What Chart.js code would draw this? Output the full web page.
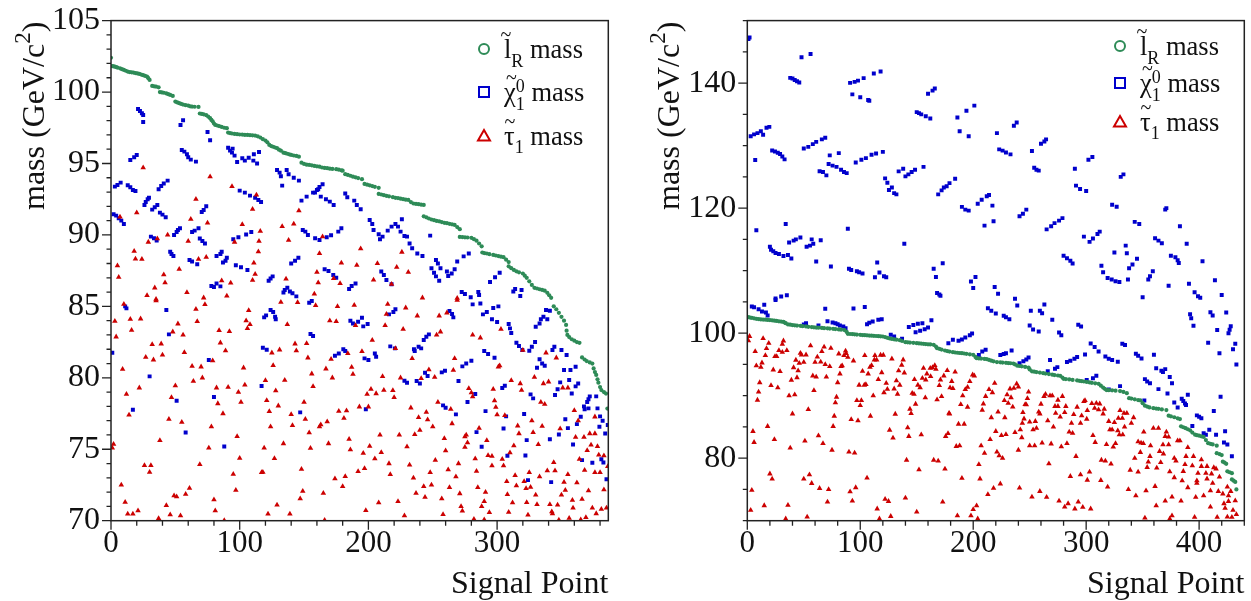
<!DOCTYPE html>
<html lang="en">
<head>
<meta charset="UTF-8">
<title>Signal point masses</title>
<script src="https://cdn.jsdelivr.net/npm/chart.js"></script>
<style>
    body { margin: 0; padding: 0; background: #fff; }
    canvas { position: absolute; top: 0; }
    #leftChart { left: 0; }
    #rightChart { left: 625px; }
</style>
</head>
<body>
<canvas id="leftChart" width="625" height="601"></canvas>
<canvas id="rightChart" width="626" height="601"></canvas>
<script>
// values as [signal point, mass]
const leftSlepton = [[0,102.4],[1,101.82],[2,101.8],[3,101.78],[4,101.75],[5,101.71],[7,101.66],[8.5,101.6],[10,101.55],[11.5,101.49],[13,101.43],[14.5,101.4],[16,101.38],[17.5,101.36],[19,101.33],[20.5,101.3],[22,101.27],[23.5,101.22],[25,101.18],[26.5,101.13],[28,101.08],[29,100.97],[30,100.85],[32,100.43],[33.5,100.4],[35,100.38],[37,100.33],[38,100],[39.5,99.97],[41,99.95],[43,99.9],[44.5,99.85],[46,99.8],[48,99.73],[50,99.33],[51.5,99.27],[53,99.22],[54.5,99.17],[56,99.12],[58,99.08],[60,99.05],[61.5,99],[63,98.98],[65,98.97],[68,98.96],[69,98.5],[70.5,98.47],[72,98.44],[74,98.38],[75.5,98.28],[77,98.17],[78,98.05],[79,97.95],[80,97.8],[81,97.7],[82.5,97.66],[84,97.62],[86,97.56],[88,97.5],[90,97.47],[91,97.16],[92.5,97.13],[94,97.1],[96,97.07],[98,97.05],[100,97.03],[102,97.02],[104,97],[106,97],[108,96.98],[110,96.97],[112,96.95],[114,96.9],[116,96.82],[118,96.7],[120,96.6],[121.5,96.48],[123,96.3],[124.5,96.22],[126,96.17],[127.5,96.12],[129,96.07],[130.5,95.97],[132,95.9],[134,95.76],[135.5,95.72],[137,95.68],[138.5,95.64],[140,95.6],[142,95.56],[144,95.53],[146,95.48],[148,95.06],[150,94.97],[152,94.92],[154,94.9],[156,94.87],[158,94.83],[160,94.8],[162,94.78],[164,94.72],[166,94.69],[168,94.67],[170,94.64],[172,94.62],[175,94.6],[177,94.57],[179,94.52],[180,94.5],[182,94.25],[184,94.2],[186,94.14],[188,94.08],[190,94.03],[192,93.98],[195,93.9],[197,93.57],[199,93.52],[201,93.47],[203,93.42],[205,93.37],[208,93.3],[208,92.87],[210,92.83],[212,92.78],[214,92.74],[216,92.7],[219,92.64],[221,92.6],[223,92.58],[225,92.54],[227,92.5],[229,92.47],[231,92.45],[233,92.3],[235,92.2],[237,92.17],[239,92.15],[241,92.12],[243,92.1],[243,91.3],[245,91.23],[247,91.15],[249,91.08],[251,91.03],[253,90.98],[255,90.95],[257,90.9],[259,90.85],[261,90.82],[263,90.78],[265,90.74],[267,90.7],[269,90.55],[271,90.4],[271,89.86],[273,89.85],[275,89.83],[277,89.82],[280,89.8],[282,89.7],[284,89.6],[286,89.4],[288,89.2],[288.5,88.77],[290,88.73],[292,88.7],[294,88.65],[297,88.6],[299,88.56],[301,88.52],[303,88.48],[305,88.44],[307,88.27],[309,88.1],[309,87.8],[311,87.67],[313,87.55],[315,87.45],[317,87.38],[320,87.3],[321.5,87.15],[323,87],[325,86.75],[327,86.5],[329,86.3],[331,86.25],[333,86.2],[335,86.15],[337,86.1],[339,85.95],[340.5,85.78],[342,85.6],[344,85],[346,84.8],[348,84.55],[350,84.27],[352,84],[353.6,83.7],[354,83.3],[354.6,83],[356,82.85],[358,82.7],[360,82.6],[362,82.5],[364,82.45],[366,81.43],[368,81.28],[369.6,81.17],[372,81.08],[374,81],[375,80.66],[376,80.4],[377,80.2],[378,79.9],[378.7,79.66],[380,79.35],[381,79.14],[383,79],[384.6,78.9],[385.7,77.85]];

const leftNeutralino = [[2,91.45],[4,91.35],[6,91.17],[8,91],[10,90.77],[3,93.38],[5,93.5],[7.5,93.66],[13,93.48],[15,93.34],[17,93.15],[19,93.08],[15,95.25],[18,95.44],[20,95.6],[21,98.82],[22.5,98.68],[24,98.52],[25,98.4],[25,97.9],[26,92.1],[27,92.3],[28.5,92.5],[29.5,92.6],[32,91.77],[34,91.94],[36,92.1],[38,91.56],[40,91.42],[42.5,91.24],[31,89.88],[33.4,89.77],[35.5,89.6],[37,93.2],[39,93.43],[41,93.6],[44,93.8],[46,88.83],[47,88.67],[48.5,88.53],[49,90],[51,90.2],[52,90.35],[53.6,90.47],[54,97.7],[56,98.03],[55,95.95],[57,95.83],[59,95.65],[60,95.44],[62,95.27],[66,95.13],[61,88.25],[63,88.14],[67,87.95],[63,90.2],[65,90.3],[68,90.47],[69,89.75],[71,89.58],[73,89.4],[70.5,91.6],[72,91.75],[74,92],[75,97.2],[77,96.63],[82,88.53],[85,88.67],[86,88.83],[87,88.07],[89,88.2],[90,88.4],[95,89.7],[99,89.84],[105,90.03],[109,90.2],[97,87.88],[101,87.74],[106,87.55],[91,96.1],[94.5,96.04],[92.5,95.9],[94,95.76],[96,95.55],[98,95.1],[102,95.37],[104,95.2],[107,95.4],[111,95.65],[115,95.8],[110.6,95.2],[113.5,95],[100,93.1],[104,92.96],[108,92.75],[112,92.6],[114.5,92.45],[116.6,92.3],[122.5,86.8],[124,86.95],[125.6,87.1],[129,94.55],[131,94.36],[132,94.1],[133,93.45],[136.5,94.55],[138,94.25],[142,94],[146,93.8],[140,88],[143,88.2],[145.6,88.4],[148,92.4],[152,92.68],[149,90.35],[151,90.23],[153,90],[158.6,89.77],[162,89.65],[157,92.96],[160,93.15],[162,93.35],[134,85.97],[135,86.15],[137,86.3],[139,86.04],[141,85.92],[144,85.7],[78,86.43],[80,86.35],[82,86.6],[85,86.4],
    [1,81.75],[11,85],[12,84.86],[43,84.74],[45,83.04],[17,77.77],[30,80.1],[51,78.4],[58,76.18],[76,81.24],[80,78.65],[88,75.2],[117,79.42],[118,82.1],[121,81.97],[119,84.23],[120.5,84.37],[124,84.74],[126,84.6],[127.5,84.27],[128,84.1],[147,77.58],[155,83.06],[157,82.92],[154,85.25],[156,85.37],
    [186,84],[188,83.8],[192,83.92],[195,84.2],[196,83.6],[199.4,83.76],[174,81.55],[177,81.7],[180.5,82],[182,81.87],[197,81.36],[200,81.24],[205,81.7],[206,81.47],[198,77.8],[216,84.44],[219.4,84.6],[221,84.8],[217,82.2],[220.6,82.06],[228,79.8],[230,79.66],[237.5,79.77],[240,79.6],[235.4,82],[236,81.87],[239,82.17],[241,82.06],[243,82.64],[245,82.87],[247,83.04],[244,80.35],[246,80.12],[257,80.38],[259.5,80.5],[263,84.67],[265,84.46],[266,84.23],[258,78.07],[260,77.9],[268,77.44],[270,79.77],[273,80.8],[276,81],[280,81.2],[277,78.3],[283,78.86],[284,76.2],[288,75.18],[291,77.67],[281,85.14],[287,85.2],[289,84.44],[292,84.6],[297,84.88],[301,85],[296,84.1],[300,83.9],[290,81.87],[293,81.66],[298,81.4],[304,79.28],[306,79.44],[309,83.76],[310,83.46],[311,83.13],[315,82.45],[317,82.22],[319.6,81.94],[325,81.9],[327,82.17],[329.5,82.5],[307,77.3],[305,76.46],[321,77.47],[323,75.64],[322,74.57],[308,74.55],[324,72.84],[342,72.7],[326,78.84],[328,78.56],[330,83.57],[333,83.8],[334,84.1],[336,84.27],[339,84.1],[338,84.74],[341,84.7],[331,80.7],[333,81.3],[335,81],[337,80.85],[343,81.94],[344.5,82.17],[350,81.94],[354,81.6],[352,80.54],[357,80.54],[361,80.77],[349,79.68],[356,79.84],[363,79.6],[361,79.4],[347,79.2],[345,78.8],[358,78.9],[341,75.7],[348,76.04],[353,77.1],[355,76.48],[359,75.34],[362,76.76],[365,77.27],[366,74.24],[374,74.06],[367.5,78],[368,77.8],[370,78.3],[371,78.5],[372,78.7],[377,78.7],[371,77.86],[378,77.86],[380,77.3],[382,77],[379.5,76.58],[384,76.1],[386,76.7],[381,74.3],[382.6,74.08],[385,72.9],
    [158.5,92.96],[161,93.2],[164.4,93.55],[163,92.68],[167,92.5],[170,92.33],[173,92.1],[182,92.9],[183.6,92.64],[189,92.4],[191,92.1],[194,91.8],[201,91.05],[203,90.77],[204,90.35],[208,90.05],[209,89.7],[211,89.88],[215,90.3],[218,90.58],[221,90.77],[226,91.1],[223,90.58],[225,90.23],[228,89.93],[230,89.88],[232,89.4],[234,89.07],[238,88.7],[242,88.53],[248,89.95],[252.5,88.25],[254,88],[256,87.67],[249,87.67],[251,87.36],[252.5,87.1],[255,86.8],[261,87.44],[262,87.13],[264.7,87.3],[267,87.6],[269,88.14],[274,88.5],[278,88.7],[167.6,89.84],[171,89.98],[176.6,90.23],[179,90.47],[166,87.6],[169,87.48],[172.7,87.2],[175,87],[185,86.22],[187,86.43],[190,86.6],[210,87.44],[212,87.2],[214,86.85],[218,86.55],[272.5,86],[275,85.87],[279.5,85.64],[285.4,86],[286,85.8],[294.5,86.7],[298.4,87.04],[302,87.36],[312.6,86.04],[314,86.22],[319,86.15],[318,85.73]];

const leftStau = [[25,94.7],[77,94.08],[94,93.4],[113,92.8],[66,92.5],[110,91.8],[146,91.7],[20,91.56],[7,91.26],[62,91.1],[75,90.84],[102,90.73],[142,90.77],[133,90.6],[116,90.26],[44,90],[36,89.74],[29,89.5],[60,89.56],[115,89.56],[138,89.63],[96,89.5],[18,88.86],[114.5,88.83],[162,88.7],[19,88.32],[24,88.3],[74,88.44],[68,88.3],[5,87.85],[111,88.04],[53,87.6],[160,87.4],[112,87.25],[41,87.22],[6,87.04],[86,86.8],[110,86.83],[136,86.92],[42,86.66],[93,86.64],[161,86.66],[34,86.3],[59,85.97],[158,85.87],[28,85.76],[90,85.73],[72,85.6],[35,85.5],
    [10,85.16],[35,85.4],[73,85.14],[132,85.3],[145,85.28],[159,85.07],[3,83.97],[15,84.1],[23,84.13],[66,84.8],[67,83.95],[52,83.78],[107,84.72],[105,84],[108,83.74],[106,83.46],[137,83.74],[4,82.87],[16,83.34],[48,83.22],[56,83],[84,83.32],[92,83.25],[32,82.34],[39,82.38],[85,82.45],[143,82.38],[152,82.4],[89,81.9],[57,81.78],[40,81.6],[125,81.75],[131,81.96],[144,81.9],[153,81.4],[27,81.45],[33,81.26],[79,81.2],[63,80.82],[70,80.77],[103,80.7],[126,80.87],[9,80.6],[156,80.28],[71,80],[64,79.77],[120,79.82],[135,79.84],[104,79.5],[50,79.45],[22,79.3],[82,79.3],[91,79.35],[157,79.4],[99,79],[128,79.1],[12,78.86],[47,78.63],[121,78.42],[83,78.2],[101,78.3],[150,78.3],[130,78.04],[123,77.65],[14,77.4],[87,77.5],[140,77.44],[45,77.1],[151,77.1],[55,76.9],[78,76.58],[124,76.58],[141,76.67],[154,76.16],[162,76.58],[98,75.9],[38,75.62],[134,75.4],[2,75.36],[1,75.1],[76,75.1],[119,75.1],[155,75.08],[100,74.38],[127,74.36],[26,73.87],[31,73.87],[69,73.94],[148,73.6],[30,73.4],[95,73.26],[117,73.38],[118,73.4],[8,72.5],[97,72.14],[61,72.28],[149,72.07],[58,71.86],[49,71.75],[51,71.68],[80,71.47],[147,71.54],[11,71.3],[43,71.07],[129,71.1],[81,70.7],[21,70.7],[13,70.47],[17,70.47],[46,70.42],[54,70.35],[122,70.47],[139,70.47],[37,70.16],[88,70.02],
    [176,85],[189,85.09],[215,85.16],[229,84.9],[269,85.44],[170,84],[175,83.95],[190,83.67],[213,83.67],[238,84.34],[255,84.34],[261,84.55],[214,84.46],[227,83.41],[256,83.22],[253,83],[303,83.41],[281,83],[287,82.8],[203,82.64],[184,81.7],[195,81.85],[221,82.06],[171,81.3],[234,81.36],[267,81.36],[320,81.94],[338,81.75],[346,81.4],[167,80.63],[187,80.75],[172,80],[188,80.26],[211,80.1],[225,80],[241,79.96],[247,80.57],[251.5,80.05],[266,80.54],[301,80.77],[302,80.85],[329,80.05],[311,79.82],[318,79.6],[336,79.6],[340,79.72],[202,79.2],[199,78.86],[206,78.9],[212,79.14],[219,79.12],[220,78.63],[278,79.26],[280,78.96],[281,78.68],[297,79.2],[319,79.14],[351,79.3],[355,79.3],[193,77.97],[200,77.97],[177,77.67],[183,77.7],[181,77.18],[233,77.9],[245,77.6],[254,78.3],[264,77.8],[298,78.4],[299,77.95],[300,77.42],[306,77.37],[334,78.3],[337,78.16],[360,77.72],[376,77.27],[163,76.72],[168,76.93],[239,77.23],[246,77.07],[250,76.58],[265,76.8],[286,76.48],[316,76.64],[327,77],[335,76.62],[363,77],[349,76.44],[209,76],[224,76],[236,76.04],[240,76.34],[259,75.76],[275,75.88],[276,76],[317,76.1],[328,76.18],[361,75.85],[367.5,75.85],[372,76.1],[376,76.1],[185,75.7],[169,75.4],[186,74.97],[201,75.22],[230,75.18],[277,75.46],[275,75.15],[292,75.62],[313,75.25],[332,75.34],[370,74.92],[373,75.3],[378,75.2],[196,74.73],[210,74.78],[260,74.9],[310,74.76],[379,74.6],[383,74.55],[205,74.34],[252,74.24],[283,74.34],[293,74.57],[296,74.52],[304,74.31],[364,74.31],[216,74],[232,73.9],[270,74],[296,73.85],[305,73.85],[344,74.08],[386,73.8],[192,73.45],[197,73.66],[217,73.24],[248,73.38],[262,73.57],[284,73.47],[325,73.38],[339,73.5],[345,73.5],[368,73.54],[314,73.17],[355,73.24],[376,73.38],[380,73.38],[174,72.94],[182,73.1],[235,73],[268,73.08],[333,73.08],[307.5,72.75],[321,72.75],[352,72.7],[362,72.66],[180,72.4],[243,72.4],[249,72.5],[263,72.33],[285,72.33],[315,72.45],[322.5,72.26],[326,72.35],[353,72.14],[383,72.17],[165,71.93],[237,71.93],[271,71.9],[291,72],[308,71.84],[330,71.8],[350,71.8],[371,72.1],[244,71.65],[257,71.54],[358.5,71.44],[366,71.5],[208,71.26],[223,71.35],[290,71.35],[288,71],[312,71.26],[323,71.28],[331,71.14],[341,71.14],[347,71.1],[272,71],[198,70.72],[273,70.68],[294,70.58],[309,70.6],[342.5,70.63],[343,70.5],[359,70.9],[374,70.9],[381,70.8],[385,70.9],[377,70.5],[228,70.35],[258,70.44],[324,70.4],[166,70.04],[282,70.1],[290,70.07],[348,70.05],[356,70.18],[365,70.07],[369,70.23],
    [164.4,89.88],[194,89.04],[226,88.8],[179,88.04],[191,87.88],[207,88],[222,87.74],[231,87.4],[173,86.95],[178,86.6],[204,86.85],[218,86.55],[242,85.6],[269,85.57]];

const rightSlepton = [[1,102.56],[2.5,102.5],[4,102.45],[6,102.37],[8,102.3],[10,102.25],[12,102.2],[14,102.17],[16,102.15],[18,102.12],[20,102.1],[22,102.05],[24,102],[26,101.95],[28,101.9],[30,101.85],[32,101.8],[33,101.7],[34,101.6],[36,101.4],[38,101.35],[40,101.3],[42,101.26],[44,101.22],[47,101.17],[49,101.12],[52,101.07],[54,101.02],[57,100.97],[59,100.93],[61,100.9],[63,100.87],[66,100.83],[68,100.8],[71,100.77],[73,100.73],[76,100.7],[78,100.65],[81,100.6],[83,100.56],[86,100.5],[88,100.2],[89,99.9],[91,99.87],[93,99.85],[95,99.82],[97,99.78],[100,99.73],[102,99.7],[104,99.68],[106,99.65],[108,99.62],[110,99.6],[112,99.57],[114,99.55],[116,99.52],[118,99.5],[120,99.47],[122,99.37],[124,99.25],[126,99.15],[128,99.08],[130,99.02],[132,98.96],[135,98.88],[137,98.75],[140,98.56],[142,98.53],[144,98.5],[147,98.45],[150,98.4],[152,98.36],[154,98.33],[156,98.29],[158,98.25],[160,98.22],[162,98.2],[165,98.14],[167,97.85],[168,97.6],[170,97.5],[172,97.37],[175,97.23],[177,97.14],[179,97.06],[182,96.96],[184,96.91],[186,96.87],[188,96.83],[190,96.8],[192,96.75],[194,96.7],[197,96.62],[200,96.54],[202,96.2],[203,96],[205,95.96],[207,95.93],[210,95.88],[212,95.85],[214,95.72],[216,95.6],[218,95.5],[221,95.37],[224,95.33],[226,95.3],[229,95.25],[231,95.22],[233,95.19],[235.5,95.15],[237,95],[239,94.8],[241,94.75],[243,94.7],[246,94.6],[249,94.5],[250,94.2],[252,93.9],[254,93.84],[256,93.78],[259,93.7],[262,93.6],[264,93.54],[267,93.45],[270,93.36],[272,93.3],[275,93.23],[277,93.18],[279,92.9],[280,92.7],[282,92.66],[285,92.6],[288,92.52],[292,92.44],[294,92.38],[296,92.32],[298,92.27],[300.5,92.2],[303,92.12],[305,92.05],[308,91.98],[311,91.9],[313,91.6],[315,91.3],[316.5,91.1],[318,90.9],[320,90.88],[323,90.85],[326,90.8],[330,90.74],[333,90.6],[336,90.4],[338,89.6],[340,89.53],[343,89.42],[346,89.3],[348,89.24],[350,88.8],[352,88.4],[354,88.25],[356,88.12],[359.5,88],[362,87.94],[364,87.9],[367,87.8],[371,87.7],[373,86.8],[375,86.7],[378,86.55],[381,86.38],[383,86.26],[384,85.1],[386,84.95],[388,84.8],[390,84.63],[392,84.45],[394,84.1],[396.4,83.76],[398,83.68],[400,83.6],[402,83.5],[404,83.4],[406,82.9],[408,82.4],[410,82.3],[412,82.2],[415.6,82],[415.6,80.8],[418,80.65],[420,80.5],[421,79.45],[422.5,79.3],[424,79.1],[425,77.9],[427,77.75],[429,77.6],[429,76.6],[430.5,76.4],[432,76.2],[433,75]];

const rightNeutralino = [[2,147.3],[1,147.07],[48,144.14],[56,144.67],[38,140.84],[40,140.73],[42,140.5],[44,140.3],[46,140.1],[91,140.04],[95,140.2],[98,140.4],[103,140.8],[112,141.53],[118,141.85],[93,138.2],[100,137.75],[107,137.3],[108,137.17],[160,138.3],[164,138.8],[166,139.14],[150,135.36],[152,135.2],[154,135],[158,134.7],[162,134.35],[3,131.5],[6,131.8],[9,132],[12,132.3],[14,131.74],[17,132.85],[19.5,133],[22,129.23],[24.5,129.07],[27,128.86],[29,128.65],[31,128.27],[33,127.8],[7,127.7],[50,129.55],[54,129.8],[58,130.24],[61,130.6],[66,131],[69,131.25],[73,128.44],[81,128.8],[72,127.05],[75.5,126.8],[79,126.6],[83,126.15],[85.6,125.77],[88,125.6],[64,125.9],[67,125.77],[70,125.24],[96,127.3],[101,127.74],[105,128],[110,128.54],[114,128.75],[120,129],[134,125.88],[138,126.3],[140,125.08],[142.6,125.4],[145.5,125.77],[148.5,126.15],[156,126.6],[122,124.76],[124,124.07],[128,123.3],[125.4,122.9],[130,122.4],[132,122.2],[169,122.2],[172,122.84],[174,123.3],[176.5,123.5],[179,124],[8,116.45],[34,117.46],[89,116.7],[139,114.3],[20,113.84],[21,113.36],[23,113.1],[25,112.83],[28,112.67],[32,112.35],[36,112.5],[39,111.93],[37,114.5],[41,114.8],[43,115],[47,115.3],[52.5,113.84],[55.5,114],[57,115],[58.4,114.3],[65,114.85],[61,111.45],[74,110.65],[90,110.3],[92,110.1],[97,109.9],[99,109.74],[102,109.53],[115,111.3],[113,108.95],[117,109.7],[121,109.1],[123,108.95],[165,110.3],[173,111.18],[167,109],[168,106.44],[170,106.2],[171,106],[25,105.54],[30,105.86],[35,106.07],
    [201,136.4],[194,135.57],[186,134.5],[188,132.3],[196,131.5],[221,132],[236,133.17],[238.5,133.7],[223,129.4],[226,129.2],[229,128.9],[233,128.6],[252,129.13],[260,130.3],[263,130.67],[264.5,131],[254,126.46],[256,126.15],[258,126],[290,126.3],[302,127.74],[305.5,128.17],[291,123.6],[294.6,123.06],[300,122.74],[330.6,125],[333,125.4],[323,120.55],[327,120.23],[370,119.76],[371,120],[343,117.8],[347,117.47],[383,117.1],[389,114.3],[361,115.17],[364,114.8],[367,114.38],[298,115.44],[303,114.6],[306,115.13],[310,115.87],[312,116.24],[184,124.7],[190,120.2],[193,119.76],[196,119.6],[204,120.7],[207.5,121.35],[212,121.9],[214,122.1],[217,120.4],[218,117.9],[210,117.2],[241,118.7],[244,119.1],[247,119.76],[265,116.6],[269,117.1],[272,117.6],[276,118],[279,118.4],[280,112.4],[283,112],[286,111.6],[288,111.13],[325,112.9],[335,114],[336,112.8],[345,111.9],[341,111],[338,110.4],[337,108.6],[313.5,110.8],[315,109.74],[319,108.84],[322.6,108.6],[326,108.3],[329.4,108.2],[359,109.9],[356.5,109.1],[355,108.6],[375,112.4],[379,112.14],[381,111.66],[382,111.24],[403,111.5],[414,108.47],[373,107.6],[391,107.9],[396,106.55],[399,105.9],[401,105.65],[420,106.1],[202,109],[198,108.25],[200,107.24],[219,107.4],[222,106.3],[237,105.5],[350,105.75],
    [213,104],[216,103.57],[220,103.14],[227,102.77],[229,102.55],[232,102.24],[239,104.42],[251,103.57],[259,103.57],[263,104.58],[261,103.2],[270,102.13],[250,101.22],[253,100.6],[258,100.27],[276,100.1],[278,99.68],[293,101.33],[295.5,101.06],[392,103.04],[393,102.4],[395,101.17],[410,103.35],[412,102.82],[424,103.3],[416,100.5],[428,101.12],[427,100.53],[426,100],[408,98.46],[418,96.8],[432,98.3],[430,97.44],[433,95],[304,98.35],[307.5,97.8],[311,97.07],[317,96.27],[320,95.9],[323,95.7],[328,95.42],[332,98.3],[334.4,98.1],[344,96.7],[346,96.38],[349,95.95],[360,96.54],[362,94.4],[366.6,94],[370,94.25],[368,93.77],[374,93],[376,92],[352,92.65],[354,92.28],[356.5,92],[364,91.05],[372,90.36],[378,88.92],[381,88.12],[384.6,89.5],[386,89.14],[387.5,88.76],[388.4,88.5],[390,90.15],[419,89.83],[413,87.54],[398,86.85],[400,86.64],[402,86.4],[394,85.14],[404,84],[406,83.76],[409,84.56],[415,83.76],[423,84.3],[422,82.5],[425,82.2],[429,80.3],[178,98.4],[182,98.93],[187,98.77],[190,99],[193,99.3],[197,99.68],[199,99.95],[205,96.5],[208,97.07],[211,97.34],[224,96.5],[227,96.65],[229,96.8],[234,97.23],[241,95.2],[244.4,95.5],[247,95.8],[249,96.1],[268,95.7],[266,93.93],[272.4,94.3],[274.5,94.57],[283,95.4],[286,95.58],[289.6,95.9],[292,96.17],[299,96.6],[300.5,92.5],[306,92.8],[309,93.18],[320,91],[330,91.53],[351.5,89.24],
    [4,104.26],[6,104.15],[10,103.83],[13,103.46],[16.5,103.3],[18,102.82],[15,104.53],[25,105.3],[50,101.38],[52,101.6],[63,101.22],[69,103.9],[71,101.9],[75.5,101.7],[78,101.6],[80,101.44],[82,101.22],[85,101.07],[87,100.8],[94,103.94],[104,104.2],[106,101.44],[108,101.65],[111,101.86],[116,102.13],[119,102.24],[127,99.73],[130,99.47],[137,99.1],[143,101],[147,101.3],[151,101.5],[155,101.6],[149,100.16],[153,100.37],[157,100.64],[160,100.9],[163,102.08]];

const rightStau = [[2,99.5],[1,98.8],[14,99.15],[7,97.07],[19,98.4],[17,97.55],[16,96.43],[13,95.26],[12,94.57],[8,94.8],[23,94.14],[29,93.88],[11,92.1],[10,90.6],[9,89.3],[21,91.64],[27,91.27],[32,98.78],[31,98.24],[28,97.23],[31,96.96],[35,97.23],[24.5,96.27],[26,96.27],[47,96.8],[48,96.54],[43,95.7],[52,96.54],[56,98],[68,97.8],[66,97.07],[62,96.2],[74,97.6],[46,95.2],[50,95.37],[60,95.37],[65,95.4],[69,95],[73,94.67],[41,94.5],[45,94],[44,92.9],[39,92.5],[58,93.18],[61,93],[70,93],[80,92.1],[82,93.5],[83,94.67],[84,94.8],[81,96.7],[87,97.17],[87.5,96.75],[85.6,96.43],[89,96.17],[94,95.58],[37,90],[42,90.15],[59,90.84],[79,89.78],[78,88.87],[54,87.8],[40,87.1],[77,86.74],[76,85.1],[18,85.1],[5,84.3],[6,82.54],[24,83],[38,81.63],[51,82.75],[63,83.6],[67,82.37],[75,81.3],[90,81],[95,80.83],[92,86.2],[98,86],[97,89.24],[101,89.24],[100,88.44],[99,91.7],[103.6,91.7],[105,91.8],[102,93.93],[104,96.43],[111.5,90],[109,86.74],[107,93.5],[108.6,94.57],[110,94.84],[112.5,95.74],[113,96.43],[114.5,95.74],[118,96.5],[120.4,96.5],[119,93.7],[116,92.6],[123,92],[121,90.5],[124,91.05],[128,95.9],[130,91.1],[133,90.26],[132,92.4],[135,91.7],[134,94],[139,93.66],[136.7,94.9],[138,95.74],[148,92.6],[146,90.4],[147.6,90.25],[151,91.7],[153,91.3],[156,94.4],[155,92.8],[159,93.5],[162,94.4],[164,94.5],[166,94.84],[167,94.25],[162.3,93.08],[158,92.54],[157.6,89.67],[168,89.35],[172,89.88],[170,91.64],[171,92.54],[174,93.18],[177,94.04],[178.6,87.2],[144,87.86],[145,87.17],[149,88.66],[131,87.06],[126,84.5],[129,83.23],[142,84.88],[143,83.5],[154,83.76],[175.6,83.5],[177.7,83.97],[141,79.7],[152,78.16],[165,79.7],[169,79.55],[175,78.27],[20,77.5],[22,76.68],[50,76.68],[55,77.37],[57,75.98],[64,75.18],[72,75],[106,76.84],[96,75.3],[91,74.65],[93,73.17],[4,74.87],[71,73],[36,72.47],[15,72.42],[3,71.67],[115,71.9],[122,73.43],[125,73.1],[140,73.64],[127,70.7],[150,71.4],[173,73],[34,70.3],[53,70.6],[117,70.3],
    [184,93.8],[181,92.3],[179.5,91.27],[182,91.16],[199.5,93.34],[201,93.18],[197,92.28],[195,91.37],[193,91],[190.7,90],[189,88.6],[195,88.18],[179,87.1],[187,85.46],[192,85.46],[185,81.9],[188,82],[190,76.8],[186,70.8],[198,70.8],[200,71.8],[203,72.4],[204,70.3],[219,92],[214,91],[217,90.5],[211,89.9],[209,88.7],[208,87.7],[216,86.5],[222,87.4],[228,86.5],[220,84.3],[215,83],[225,83.65],[229,83.8],[207,82],[210,80.8],[221,81],[223,80.4],[226,80],[205,79],[206,76.7],[224,75.9],[218,75.2],[213,74.2],[232.6,91.1],[238.5,91.9],[236,91.2],[240,91.4],[230,90.15],[233.5,89.7],[227.6,89.25],[231,88.8],[235,88.2],[244,87.33],[246,88.6],[247,88.55],[248,89.56],[249,90.6],[250,85.8],[245,86.3],[243.5,85.6],[237,84.13],[241.7,84.56],[243,83.3],[256,84.8],[253,84.56],[250,82],[254.4,82],[240,81.3],[267,79.13],[241,75.24],[252,73.8],[259,74.7],[265,73.75],[259,87.1],[260,88.66],[262.7,89.9],[264,90.25],[268,90],[270,90],[275,89.3],[279,89.9],[272.4,88.3],[275,88.3],[282,88.3],[273,87.2],[281,87.33],[255,85.9],[258,87.4],[266,86],[277,86.6],[271,85],[261,82.43],[269,82.3],[278,81.84],[283,82.37],[292,88.18],[289,87],[287,85.6],[295,85.6],[296,86.8],[285,84.2],[288,84],[291,80.3],[286,77.1],[295,77.37],[303,77.8],[301,76.5],[276,73.16],[284,72.74],[281,72.2],[293,73],[290,71.9],[297,72.15],[304,71.9],[298,89.08],[299,89.24],[301,87.65],[305,88.76],[309,88.8],[312,88.7],[307.5,88],[311,87.75],[316,87.86],[315,87.1],[300.5,86.26],[320,85.9],[325,85.73],[323,84.56],[321,84.56],[306,83.65],[308,82.54],[318,82.2],[326,82.37],[324,81.8],[313.5,79.7],[317,79.55],[322,79.07],[313,76.46],[319,75.4],[330,87.65],[333.5,87.2],[336,87.2],[332,86.4],[328.5,86.4],[342,86.5],[340,85.6],[334,85],[328,84.4],[329.4,83.76],[332.4,83.76],[351,84.2],[359.5,84.8],[364,84.8],[371,84.2],[370,83.5],[373,83.4],[346,82.64],[348.6,82.43],[350.6,82.37],[357,82],[368,82.17],[373,82.17],[381,82.8],[383,82.8],[348,80.94],[356.5,80.3],[365,81.1],[368.4,80.7],[343,80],[355,79.4],[378,80],[379.5,79.55],[390,81.73],[388.4,80.3],[387.5,79],[395,80.3],[402,79.77],[394,78.8],[386,77.9],[374,77.85],[366,79.33],[362.5,78.43],[354,78.54],[339,78.1],[346,77.8],[378,76.9],[385,76.4],[390,75.3],[398,76.4],[399,77.6],[402,78.7],[407,78.7],[406,77.6],[413,78.5],[415,78.3],[411,77.5],[407,76.7],[418,77],[398,76],[412,76],[337.4,75],[344,74],[353,74.8],[361,75.5],[362,72.4],[370,73.16],[376,73.8],[384,73.16],[397,73.75],[404,74],[410,74.8],[417,74.7],[421,74.3],[425,75.4],[428,74.7],[432,73.2],[426,73.1],[422,72.74],[423,72],[410,72.2],[430,71.67],[433,71],[425,70.6],[429,70.55],[416,70.55],[396,70.55],[376,70.8],[374,70.3],[352,70.45],[426,74]];

const leftXLabels = [0, 100, 200, 300];
const leftYLabels = [70, 75, 80, 85, 90, 95, 100, 105];
const rightXLabels = [0, 100, 200, 300, 400];
const rightYLabels = [80, 100, 120, 140];

const serif = '"Liberation Serif", "Times New Roman", serif';

// text run helper for the sub and superscripts
function drawRuns(ctx, runs, x, y) {
    let cx = x;
    runs.forEach(r => {
        ctx.font = (r.size || 26.5) + 'px ' + serif;
        ctx.fillText(r.text, cx, y + (r.dy || 0));
        if (!r.keep) cx += ctx.measureText(r.text).width;
    });
}

// minor and major ticks outside the frame, the frame itself and the mass title
const framePlugin = {
    id: 'frame',
    afterDraw(chart, args, opts) {
        const { ctx, chartArea: a, scales } = chart;
        ctx.save();
        ctx.strokeStyle = '#222';
        ctx.lineWidth = 1.5;
        ctx.strokeRect(a.left, a.top, a.right - a.left, a.bottom - a.top);
        ctx.lineWidth = 1.3;
        ctx.beginPath();
        scales.x.ticks.forEach(t => {
            const px = scales.x.getPixelForValue(t.value);
            ctx.moveTo(px, a.bottom);
            ctx.lineTo(px, a.bottom + (t.label !== '' ? 9 : 5));
        });
        scales.y.ticks.forEach(t => {
            const py = scales.y.getPixelForValue(t.value);
            ctx.moveTo(a.left, py);
            ctx.lineTo(a.left - (t.label !== '' ? 9 : 4.5), py);
        });
        ctx.stroke();

        ctx.translate(opts.titleX, opts.titleY);
        ctx.rotate(-Math.PI / 2);
        ctx.fillStyle = '#111';
        ctx.textAlign = 'left';
        ctx.textBaseline = 'alphabetic';
        drawRuns(ctx, [
            { text: 'mass (GeV/c', size: 32 },
            { text: '2', size: 23, dy: -14 },
            { text: ')', size: 32 }
        ], 0, 0);
        ctx.restore();
    }
};

const legendRows = [
    { mark: 'circle', color: '#2e8b57', runs: [{ text: 'l' }, { text: 'R', size: 18, dy: 9 }, { text: ' mass' }] },
    { mark: 'square', color: '#0000cc', runs: [{ text: 'χ' }, { text: '0', size: 18, dy: -9, keep: true }, { text: '1', size: 18, dy: 9 }, { text: ' mass' }] },
    { mark: 'triangle', color: '#cc0000', runs: [{ text: 'τ' }, { text: '1', size: 18, dy: 8 }, { text: ' mass' }] }
];

const legendPlugin = {
    id: 'massLegend',
    afterDraw(chart, args, opts) {
        const ctx = chart.ctx;
        ctx.save();
        ctx.textBaseline = 'alphabetic';
        ctx.textAlign = 'left';
        legendRows.forEach((row, i) => {
            const my = opts.markY[i];
            ctx.strokeStyle = row.color;
            ctx.lineWidth = 2;
            ctx.beginPath();
            if (row.mark === 'circle') ctx.arc(opts.markX, my, 5, 0, Math.PI * 2);
            if (row.mark === 'square') ctx.rect(opts.markX - 5, my - 5, 10, 10);
            if (row.mark === 'triangle') {
                ctx.moveTo(opts.markX, my - 6);
                ctx.lineTo(opts.markX + 6, my + 4.5);
                ctx.lineTo(opts.markX - 6, my + 4.5);
                ctx.closePath();
            }
            ctx.stroke();
            ctx.fillStyle = '#111';
            const base = my + opts.baseOffset;
            drawRuns(ctx, row.runs, opts.textX, base);
            ctx.font = '20px ' + serif;
            ctx.fillText('~', opts.textX + (i === 0 ? -3.5 : i === 1 ? 2 : 0.5), base - 17);
        });
        ctx.restore();
    }
};

function toPoints(list) {
    return list.map(p => ({ x: p[0], y: p[1] }));
}

function makeChart(id, series, cfg) {
    return new Chart(document.getElementById(id), {
        type: 'scatter',
        data: {
            datasets: [
                { label: 'slepton mass', data: toPoints(series[0]), backgroundColor: '#2e8b57', pointStyle: 'circle', pointRadius: 2.1, order: 1 },
                { label: 'neutralino mass', data: toPoints(series[1]), backgroundColor: '#0000cc', pointStyle: 'rect', pointRadius: 2.8, order: 2 },
                { label: 'stau mass', data: toPoints(series[2]), backgroundColor: '#cc0000', pointStyle: 'triangle', pointRadius: 3.2, order: 0 }
            ]
        },
        plugins: [framePlugin, legendPlugin],
        options: {
            responsive: false,
            animation: false,
            layout: { padding: { top: 20.6, right: cfg.padRight, left: 0, bottom: 0 } },
            elements: { point: { borderWidth: 0, hoverRadius: 3 } },
            plugins: {
                legend: { display: false },
                tooltip: { enabled: false },
                massLegend: cfg.legend,
                frame: { titleX: cfg.titleX, titleY: 210 }
            },
            scales: {
                x: {
                    type: 'linear',
                    min: 0,
                    max: cfg.xMax,
                    afterFit(s) { s.height = 80.3; s.paddingLeft = 0; s.paddingRight = 0; },
                    grid: { display: false, drawTicks: false },
                    border: { display: false },
                    ticks: {
                        stepSize: 20,
                        includeBounds: false,
                        autoSkip: false,
                        maxRotation: 0,
                        padding: 8,
                        color: '#111',
                        font: { family: serif, size: 31, lineHeight: 1 },
                        callback: v => cfg.xLabels.includes(v) ? String(v) : ''
                    },
                    title: {
                        display: true,
                        text: 'Signal Point',
                        align: 'end',
                        color: '#111',
                        font: { family: serif, size: 32, lineHeight: 1 },
                        padding: { top: 0, bottom: 0 }
                    }
                },
                y: {
                    type: 'linear',
                    min: cfg.yMin,
                    max: cfg.yMax,
                    afterFit(s) { s.width = cfg.yWidth; s.paddingTop = 0; s.paddingBottom = 0; },
                    grid: { display: false, drawTicks: false },
                    border: { display: false },
                    ticks: {
                        stepSize: cfg.yStep,
                        includeBounds: false,
                        autoSkip: false,
                        padding: 11,
                        color: '#111',
                        font: { family: serif, size: 32, lineHeight: 1 },
                        callback: v => cfg.yLabels.includes(v) ? String(v) : ''
                    }
                }
            }
        }
    });
}

makeChart('leftChart', [leftSlepton, leftNeutralino, leftStau], {
    xMax: 386.4, yMin: 70, yMax: 105, yStep: 1, yWidth: 111, padRight: 16.7, titleX: 44,
    xLabels: leftXLabels, yLabels: leftYLabels,
    legend: { markX: 484, markY: [49, 92, 136], textX: 504, baseOffset: 9 }
});

makeChart('rightChart', [rightSlepton, rightNeutralino, rightStau], {
    xMax: 440, yMin: 70, yMax: 150, yStep: 5, yWidth: 122.3, padRight: 6.7, titleX: 54,
    xLabels: rightXLabels, yLabels: rightYLabels,
    legend: { markX: 495, markY: [46, 83, 122], textX: 515, baseOffset: 9 }
});
</script>
</body>
</html>
